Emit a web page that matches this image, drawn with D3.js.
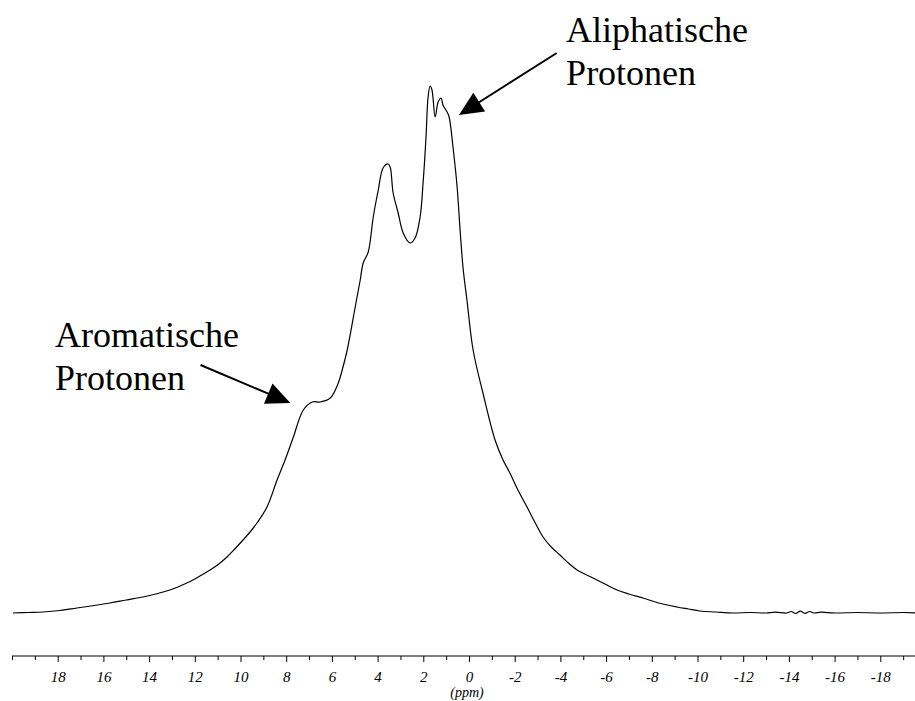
<!DOCTYPE html>
<html>
<head>
<meta charset="utf-8">
<script src="https://cdn.jsdelivr.net/npm/d3@7"></script>
<style>
  html, body { margin: 0; padding: 0; background: #fff; }
  svg { display: block; }
</style>
</head>
<body>
<svg id="chart" width="915" height="701"></svg>
<script>
// 1H NMR spectrum: chemical shift (ppm) and signal intensity (arbitrary units)
const shiftPpm = [
  19.96, 19.3, 18.64, 17.9, 17.16, 16.4, 15.71, 15.0, 14.27, 13.7, 13.09, 12.6,
  12.08, 11.7, 11.33, 10.95, 10.59, 10.25, 9.89, 9.58, 9.28, 8.84, 8.40, 8.05,
  7.70, 7.25, 6.86, 6.51, 6.07, 5.72, 5.55, 5.33,
  4.98, 4.76, 4.63, 4.41, 4.19, 3.97, 3.76, 3.54, 3.45, 3.32, 3.10, 2.88,
  2.58, 2.36, 2.14, 2.01, 1.88, 1.79, 1.70, 1.62, 1.48, 1.35, 1.22, 1.14,
  0.96, 0.87, 0.70, 0.52, 0.39, 0.26, 0.09, -0.18, -0.61, -1.14, -1.49, -1.79,
  -2.14, -2.54, -2.9, -3.24, -3.6, -3.98, -4.35, -4.73, -5.43, -5.95, -6.48,
  -7.0, -7.61, -8.3, -9.10, -9.6, -10.11, -10.8, -11.55, -12.3, -13.0, -13.4,
  -13.9, -14.1, -14.3, -14.5, -14.7, -14.9, -15.1, -15.4, -16.0, -17.0, -18.0,
  -19.0, -19.6
];
const intensity = [
  0, 0.5, 1, 2.5, 5, 7.5, 10, 13, 16, 19, 23, 27.5,
  33, 38, 43, 49, 56, 64, 73, 81, 90, 106, 133, 153,
  175, 203, 211, 211, 215, 230, 243, 263,
  306, 333, 350, 361, 396, 423, 445, 449, 446, 420, 400, 380,
  370, 375, 396, 430, 476, 516, 527, 523, 496, 511, 515, 508,
  501, 496, 466, 426, 383, 345, 313, 263, 220, 173, 153, 140,
  123, 106, 90, 76, 66, 58, 50, 43, 35, 29, 23,
  19, 15, 10, 6, 4, 2, 1, 0, 0.5, 0, 0.8,
  0, 1.5, -0.5, 1.8, -0.3, 1.5, 0, 0.8, 0, 0.5, 0,
  0.5, 0
];

// axis ticks
const majorTicks = [18, 16, 14, 12, 10, 8, 6, 4, 2, 0, -2, -4, -6, -8, -10, -12, -14, -16, -18];
const minorTicks = d3.range(20, -20, -1).filter(v => v % 2 !== 0 || v === 20);
const axisTitle = "(ppm)";

// labelled signal groups: text lines, arrow tail and tip in (ppm, intensity)
const annotations = [
  { lines: ["Aromatische", "Protonen"], textAt: [18.12, 266], tail: [11.75, 248], tip: [7.82, 210] },
  { lines: ["Aliphatische", "Protonen"], textAt: [-4.25, 571], tail: [-3.84, 560], tip: [0.44, 498] }
];

const serif = "'Liberation Serif', 'Times New Roman', Times, serif";
const svg = d3.select("#chart");

const x = d3.scaleLinear().domain([20, -20]).range([12, 926]);
const y = d3.scaleLinear().domain([0, 527]).range([613, 86]);

const data = shiftPpm.map((p, i) => ({ p, v: intensity[i] }));

// spectrum trace
svg.append("path")
  .datum(data)
  .attr("fill", "none")
  .attr("stroke", "#000")
  .attr("stroke-width", 1.2)
  .attr("stroke-linejoin", "round")
  .attr("d", d3.line()
    .x(d => x(d.p))
    .y(d => y(d.v))
    .curve(d3.curveCatmullRom.alpha(0.5)));

// ppm axis
const axisY = 656;
const axisG = svg.append("g").attr("transform", `translate(0,${axisY})`);

axisG.append("g")
  .call(d3.axisBottom(x).tickValues(minorTicks).tickSize(4).tickFormat(""))
  .call(g => g.select(".domain").remove())
  .selectAll("line").attr("stroke", "#000");

const major = axisG.append("g")
  .attr("font-family", serif)
  .call(d3.axisBottom(x).tickValues(majorTicks).tickSize(6).tickSizeOuter(0).tickPadding(9)
    .tickFormat(d => d3.format("d")(d).replace("−", "-")));
major.attr("font-family", serif).attr("font-size", 15);
major.select(".domain").attr("stroke", "#000").attr("d", `M12,0H915`);
major.selectAll("line").attr("stroke", "#000");
major.selectAll("text")
  .attr("fill", "#000")
  .style("font-family", serif)
  .style("font-style", "italic")
  .style("font-size", "15px");

svg.append("text")
  .attr("x", x(0) - 2)
  .attr("y", 697)
  .attr("text-anchor", "middle")
  .style("font-family", serif)
  .style("font-style", "italic")
  .style("font-size", "14px")
  .text(axisTitle);

// annotation labels with filled arrowheads
annotations.forEach(a => {
  const t = svg.append("text")
    .attr("x", x(a.textAt[0]))
    .attr("y", y(a.textAt[1]))
    .style("font-family", serif)
    .style("font-size", "36px")
    .attr("fill", "#000");
  a.lines.forEach((line, i) => {
    t.append("tspan")
      .attr("x", x(a.textAt[0]))
      .attr("dy", i === 0 ? 0 : 43)
      .text(line);
  });

  const x0 = x(a.tail[0]), y0 = y(a.tail[1]);
  const x1 = x(a.tip[0]), y1 = y(a.tip[1]);
  const len = Math.hypot(x1 - x0, y1 - y0);
  const ux = (x1 - x0) / len, uy = (y1 - y0) / len;
  const headLen = 24, headHalf = 11;
  const bx = x1 - ux * headLen, by = y1 - uy * headLen;

  svg.append("line")
    .attr("x1", x0).attr("y1", y0)
    .attr("x2", bx + ux * 2).attr("y2", by + uy * 2)
    .attr("stroke", "#000")
    .attr("stroke-width", 2);

  svg.append("path")
    .attr("d", `M${x1},${y1}L${bx - uy * headHalf},${by + ux * headHalf}L${bx + uy * headHalf},${by - ux * headHalf}Z`)
    .attr("fill", "#000");
});
</script>
</body>
</html>
